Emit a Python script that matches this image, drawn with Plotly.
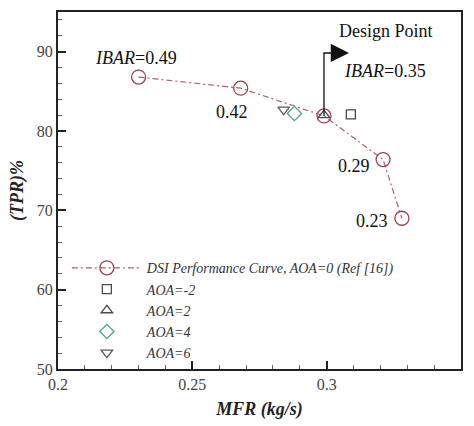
import plotly.graph_objects as go

# DSI performance curve at AOA=0 (Ref [16])
mfr_dsi = [0.230, 0.268, 0.299, 0.321, 0.328]
tpr_dsi = [86.8, 85.4, 81.9, 76.4, 69.0]
ibar_labels = ["<i>IBAR</i>=0.49", "0.42", "<i>IBAR</i>=0.35", "0.29", "0.23"]
design_index = 2

# Other angles of attack at the design point
aoa_names = ["<i>AOA=-2</i>", "<i>AOA=2</i>", "<i>AOA=4</i>", "<i>AOA=6</i>"]
aoa_mfr = [0.309, 0.299, 0.288, 0.284]
aoa_tpr = [82.1, 82.0, 82.2, 82.7]

x_ticks = [0.2, 0.25, 0.3, 0.35]
x_tick_text = ["0.2", "0.25", "0.3", "0.35"]
y_ticks = [50, 60, 70, 80, 90]

SERIF = "Liberation Serif"

aoa_symbols = ["square-open", "triangle-up-open", "diamond-open", "triangle-down-open"]
aoa_colors = ["#4a4a4a", "#4a4a4a", "#4fa383", "#5a5a5a"]
aoa_sizes = [9, 10, 11, 10]

fig = go.Figure()

fig.add_trace(go.Scatter(
    x=mfr_dsi, y=tpr_dsi, mode="lines+markers",
    name="<i>DSI Performance Curve, AOA=0 (Ref [16])</i>",
    line=dict(color="#a86468", width=1.2, dash="6px,3px,2px,3px"),
    marker=dict(symbol="circle-open", size=14, color="#a0404c",
                line=dict(width=1.3, color="#a0404c")),
))

for name, xv, yv, sym, col, sz in zip(aoa_names, aoa_mfr, aoa_tpr,
                                      aoa_symbols, aoa_colors, aoa_sizes):
    fig.add_trace(go.Scatter(
        x=[xv], y=[yv], mode="markers", name=name,
        marker=dict(symbol=sym, size=sz, color=col, line=dict(width=1.3, color=col)),
    ))

# IBAR labels beside each point of the curve
label_shifts = [(-3, 19), (-9, -24), (61, 45), (-29, -6), (-30, -3)]
for xv, yv, txt, (dx, dy) in zip(mfr_dsi, tpr_dsi, ibar_labels, label_shifts):
    fig.add_annotation(x=xv, y=yv, text=txt, showarrow=False,
                       xshift=dx, yshift=dy,
                       font=dict(family=SERIF, size=18, color="#111"))

xd, yd = mfr_dsi[design_index], tpr_dsi[design_index]

# Design point callout: vertical leg from the point, then an arrow to the right
fig.add_shape(type="line", xref="x", yref="y", x0=xd, x1=xd,
              ysizemode="pixel", yanchor=yd, y0=0, y1=63,
              line=dict(color="#222", width=1.4))
fig.add_annotation(x=xd, y=yd, xshift=25, yshift=63, ax=-27, ay=0,
                   axref="pixel", ayref="pixel", text="", showarrow=True,
                   arrowhead=2, arrowsize=2.6, arrowwidth=1.4, arrowcolor="#111")
fig.add_annotation(x=xd, y=yd, text="Design Point", showarrow=False,
                   xshift=62, yshift=85,
                   font=dict(family=SERIF, size=18, color="#111"))

axis_common = dict(
    showline=True, linecolor="#222", linewidth=2, mirror=True,
    ticks="inside", ticklen=8, tickwidth=2, tickcolor="#222",
    showgrid=False, zeroline=False,
    tickfont=dict(family=SERIF, size=16, color="#444"),
)

fig.update_xaxes(range=[0.2, 0.35], tickvals=x_ticks, ticktext=x_tick_text,
                 minor=dict(ticks="inside", ticklen=4, tickwidth=1, tickcolor="#666", dtick=0.01),
                 title=dict(text="<b><i>MFR (kg/s)</i></b>", standoff=10,
                            font=dict(family=SERIF, size=18, color="#222")),
                 **axis_common)
fig.update_yaxes(range=[50, 95], tickvals=y_ticks,
                 minor=dict(ticks="inside", ticklen=4, tickwidth=1, tickcolor="#666", dtick=2),
                 title=dict(text="<b><i>(TPR)%</i></b>", standoff=8,
                            font=dict(family=SERIF, size=18, color="#222")),
                 **axis_common)

fig.update_layout(
    width=474, height=426,
    margin=dict(l=58, r=13, t=10, b=48),
    paper_bgcolor="white", plot_bgcolor="white",
    font=dict(family=SERIF),
    showlegend=True,
    legend=dict(x=0.022, y=0.327, xanchor="left", yanchor="top",
                bgcolor="rgba(0,0,0,0)", itemwidth=70,
                font=dict(family=SERIF, size=14, color="#333")),
)

fig.write_html("out.html")
